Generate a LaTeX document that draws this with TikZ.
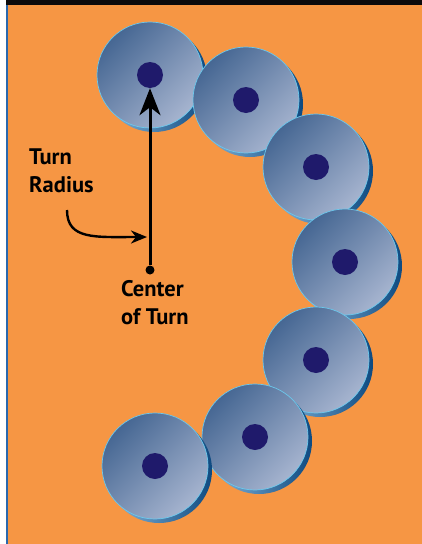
\documentclass[tikz,border=0pt]{standalone}
\usepackage{fontspec}
\setmainfont{PT Sans}
\usetikzlibrary{arrows.meta,calc}

\definecolor{bg}{HTML}{F69644}
\definecolor{barblack}{HTML}{0C0A0C}
\definecolor{edgeblue}{HTML}{2A68AE}
\definecolor{facedark}{HTML}{466793}
\definecolor{facelight}{HTML}{A6B4CF}
\definecolor{sidelight}{HTML}{8DBCE0}
\definecolor{sidedark}{HTML}{0E4A80}
\definecolor{rim}{HTML}{6CC8EC}
\definecolor{hubcol}{HTML}{1F1A6B}

\tikzset{
  hub/.style={circle, fill=hubcol, inner sep=0pt, minimum size=26pt},
  pivot/.style={circle, fill=black, inner sep=0pt, minimum size=9pt},
  caption/.style={font=\bfseries\fontsize{22.5}{28}\selectfont, align=left, inner sep=0pt, anchor=north west},
  pointer/.style={line width=3pt, -{Stealth[length=27pt,width=21pt,inset=8pt]}},
  swoop/.style={line width=2.4pt, -{Stealth[length=16pt,width=13pt,inset=5pt]}}
}

% one wheel: dark rim offset below-right, shaded face, hub node
\newcommand\wheel[2]{%
  \shade[left color=sidelight, right color=sidedark] ($(#2)+(4,4)$) circle[radius=53];
  \shade[top color=facedark, bottom color=facelight, shading angle=45,
         draw=rim, line width=0.7pt] (#2) circle[radius=53];
  \node[hub] (#1) at (#2) {};
}

\begin{document}
\begin{tikzpicture}[x=1pt,y=-1pt]
  \useasboundingbox (0,0) rectangle (422,544);
  \fill[white] (0,0) rectangle (422,544);
  \fill[bg] (8,5) rectangle (422,544);
  \fill[edgeblue] (6,5) rectangle (8,544);
  \fill[barblack] (6,0) rectangle (422,5);

  \wheel{w1}{150,75}
  \wheel{w2}{246,100}
  \wheel{w3}{316,167}
  \wheel{w4}{345,262}
  \wheel{w5}{316,360}
  \wheel{w6}{255,437}
  \wheel{w7}{155,466}

  \node[pivot] (c) at (150,270) {};
  \draw[pointer] (c) -- (w1);

  \coordinate (tail) at (67,210);
  \coordinate (hit) at (147,237);
  \draw[swoop] (tail) .. controls (67,240) and (95,237) .. (hit);

  \node[caption] (tr) at (29,149) {Turn\\Radius};
  \node[caption] (ct) at (121,280) {Center\\of Turn};
\end{tikzpicture}
\end{document}
